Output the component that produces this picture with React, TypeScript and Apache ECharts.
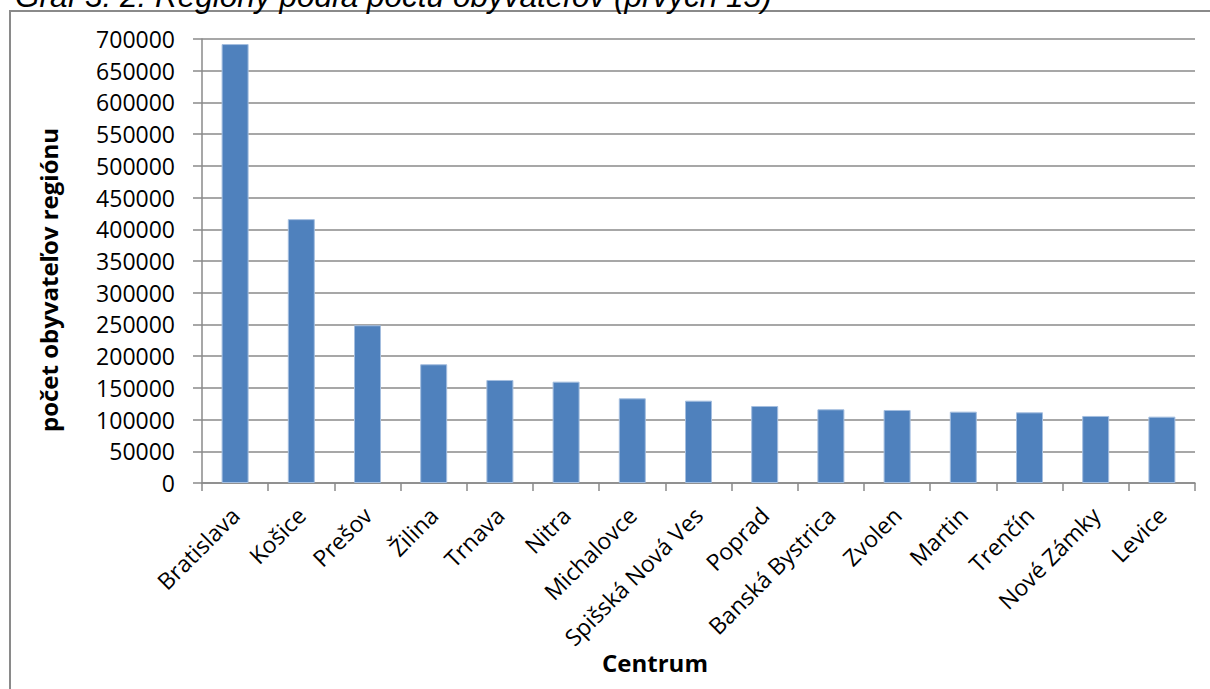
import React, { useEffect, useRef } from "react";
import * as echarts from "echarts";

// Regional centres and their population (first 15)
const centres = [
  "Bratislava",
  "Košice",
  "Prešov",
  "Žilina",
  "Trnava",
  "Nitra",
  "Michalovce",
  "Spišská Nová Ves",
  "Poprad",
  "Banská Bystrica",
  "Zvolen",
  "Martin",
  "Trenčín",
  "Nové Zámky",
  "Levice",
];

const population = [
  692000, 416000, 248700, 187200, 162400, 159800, 133500, 129800, 121400,
  116200, 115100, 112500, 111400, 105700, 104600,
];

const titleText = "Graf 3. 2: Regióny podľa počtu obyvateľov (prvých 15)";
const yAxisTitle = "počet obyvateľov regiónu";
const xAxisTitle = "Centrum";

const yMin = 0;
const yMax = 700000;
const yStep = 50000;

const W = 1210;
const H = 689;
const gridColor = "#8a8a8a";
const labelFont = '"Open Sans", "DejaVu Sans", sans-serif';

export default function App() {
  const ref = useRef<HTMLDivElement | null>(null);

  useEffect(() => {
    if (!ref.current) return;
    const chart = echarts.init(ref.current, null, { renderer: "svg", width: W, height: H });

    chart.setOption({
      animation: false,
      backgroundColor: "#ffffff",
      grid: { left: 202, right: 15, top: 39, bottom: 206, containLabel: false },
      xAxis: {
        type: "category",
        data: centres,
        axisLine: { show: true, lineStyle: { color: gridColor, width: 1.5 } },
        axisTick: {
          show: true,
          alignWithLabel: false,
          interval: 0,
          length: 8,
          lineStyle: { color: gridColor, width: 1.5 },
        },
        axisLabel: {
          interval: 0,
          rotate: 45,
          margin: 28,
          color: "#000000",
          fontFamily: labelFont,
          fontSize: 23,
        },
        splitLine: { show: false },
      },
      yAxis: {
        type: "value",
        min: yMin,
        max: yMax,
        interval: yStep,
        axisLine: { show: true, lineStyle: { color: gridColor, width: 1.5 } },
        axisTick: { show: true, length: 9, lineStyle: { color: gridColor, width: 1.5 } },
        axisLabel: {
          margin: 27,
          color: "#000000",
          fontFamily: labelFont,
          fontSize: 23,
          formatter: (v: number) => String(v),
        },
        splitLine: { show: true, lineStyle: { color: gridColor, width: 1.5 } },
      },
      series: [
        {
          type: "bar",
          data: population,
          barWidth: 27,
          itemStyle: { color: "#4F81BD", borderColor: "#a4bedf", borderWidth: 1 },
        },
      ],
      graphic: [
        {
          type: "rect",
          shape: { x: 10, y: 11, width: W + 20, height: H + 20 },
          style: { fill: "none", stroke: gridColor, lineWidth: 2 },
          silent: true,
        },
        {
          type: "text",
          x: 15,
          y: -4,
          style: {
            text: titleText,
            font: 'italic 31.5px "Liberation Sans", Arial, sans-serif',
            fill: "#000000",
            textAlign: "left",
            textVerticalAlign: "middle",
          },
          silent: true,
        },
        {
          type: "text",
          x: 48,
          y: 280,
          rotation: Math.PI / 2,
          style: {
            text: yAxisTitle,
            font: `bold 24px ${labelFont}`,
            fill: "#000000",
            textAlign: "center",
            textVerticalAlign: "middle",
          },
          silent: true,
        },
        {
          type: "text",
          x: 655,
          y: 662,
          style: {
            text: xAxisTitle,
            font: `bold 24px ${labelFont}`,
            fill: "#000000",
            textAlign: "center",
            textVerticalAlign: "middle",
          },
          silent: true,
        },
      ],
    });

    return () => {
      chart.dispose();
    };
  }, []);

  return (
    <div
      ref={ref}
      style={{
        position: "fixed",
        left: 0,
        top: 0,
        width: W,
        height: H,
        background: "#ffffff",
        overflow: "hidden",
      }}
    />
  );
}
